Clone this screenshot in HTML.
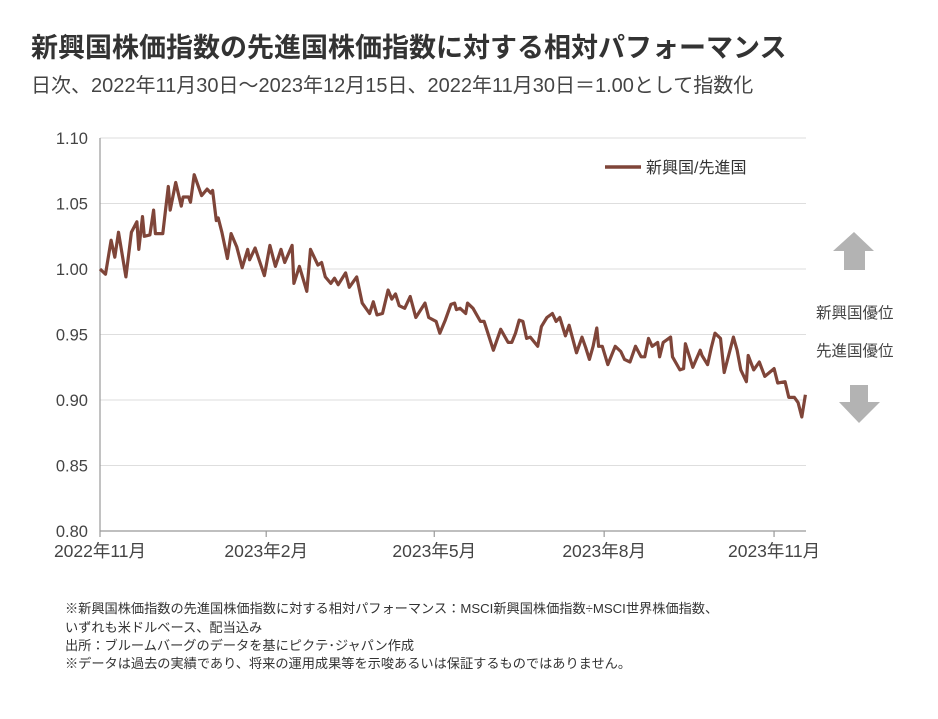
<!DOCTYPE html>
<html><head><meta charset="utf-8">
<style>
body{margin:0;background:#fff;}
svg text{font-family:"Liberation Sans","Noto Sans CJK JP",sans-serif;}
</style></head>
<body>
<svg id="chart" width="938" height="714" xmlns="http://www.w3.org/2000/svg">
<text x="31" y="57" font-size="27" font-weight="bold" fill="#333">新興国株価指数の先進国株価指数に対する相対パフォーマンス</text>
<text x="31" y="92" font-size="20" fill="#444">日次、2022年11月30日～2023年12月15日、2022年11月30日＝1.00として指数化</text>
<g id="grid"></g>
<g id="yticks"></g>
<g id="xticks"></g>
<path id="line" fill="none" stroke="#7f4539" stroke-width="3.2" stroke-linejoin="round"/>
<g>
<line x1="605" y1="167" x2="641" y2="167" stroke="#7f4539" stroke-width="3.5"/>
<text x="646" y="173" font-size="16" fill="#333">新興国/先進国</text>
</g>
<polygon points="854,232 874,251 865,251 865,270 844,270 844,251 833,251" fill="#b3b3b3"/>
<text x="816" y="318" font-size="15.5" fill="#444">新興国優位</text>
<text x="816" y="356" font-size="15.5" fill="#444">先進国優位</text>
<polygon points="850,385 868,385 868,402 880,402 859,423 839,402 850,402" fill="#b3b3b3"/>
<g font-size="13.2" fill="#333">
<text x="65" y="613">※新興国株価指数の先進国株価指数に対する相対パフォーマンス：MSCI新興国株価指数÷MSCI世界株価指数、</text>
<text x="65" y="632">いずれも米ドルベース、配当込み</text>
<text x="65" y="650">出所：ブルームバーグのデータを基にピクテ･ジャパン作成</text>
<text x="65" y="668">※データは過去の実績であり、将来の運用成果等を示唆あるいは保証するものではありません。</text>
</g>
</svg>
<script>
const days=[0,3,6,8,10,14,17,20,21,23,24,27,29,30,34,35,37,38,41,44,45,48,49,51,55,58,60,61,63,64,66,69,71,74,77,80,81,84,89,92,95,98,100,104,105,108,112,114,118,120,122,125,127,129,133,135,139,142,146,148,150,153,156,158,160,162,165,168,171,176,178,182,184,187,190,192,193,195,198,199,202,206,208,213,217,221,223,225,227,229,231,233,237,239,242,245,247,249,252,254,258,261,263,265,267,269,270,272,275,279,282,284,287,290,293,295,297,299,302,303,305,309,310,314,316,317,321,325,326,329,331,333,336,338,343,345,347,350,351,354,357,360,365,367,371,373,376,378,380,382];
const values=[1.000,0.996,1.022,1.009,1.028,0.994,1.028,1.036,1.015,1.040,1.025,1.026,1.045,1.027,1.027,1.039,1.063,1.045,1.066,1.048,1.055,1.055,1.051,1.072,1.056,1.061,1.058,1.060,1.037,1.039,1.028,1.008,1.027,1.017,1.001,1.015,1.007,1.016,0.995,1.018,1.002,1.015,1.005,1.018,0.989,1.002,0.983,1.015,1.003,1.005,0.994,0.989,0.993,0.988,0.997,0.986,0.994,0.974,0.966,0.975,0.965,0.966,0.984,0.977,0.981,0.972,0.970,0.979,0.963,0.974,0.963,0.960,0.951,0.961,0.973,0.974,0.969,0.970,0.966,0.974,0.970,0.960,0.960,0.938,0.954,0.944,0.944,0.951,0.961,0.960,0.947,0.948,0.941,0.956,0.963,0.966,0.960,0.963,0.949,0.957,0.936,0.948,0.940,0.931,0.941,0.955,0.941,0.941,0.927,0.941,0.937,0.931,0.929,0.941,0.933,0.933,0.947,0.941,0.944,0.933,0.944,0.948,0.933,0.923,0.924,0.943,0.925,0.938,0.934,0.927,0.940,0.951,0.947,0.921,0.948,0.938,0.923,0.914,0.934,0.923,0.929,0.918,0.924,0.913,0.914,0.902,0.902,0.898,0.887,0.904];
const yTicks=[0.80,0.85,0.90,0.95,1.00,1.05,1.10];
const xTickDays=[0,90,181,273,365];
const xTickLabels=["2022年11月","2023年2月","2023年5月","2023年8月","2023年11月"];
const X0=100,X1=806,Y0=531,Y1=138,DMAX=382.3;
const x=d=>X0+(X1-X0)*d/DMAX;
const y=v=>Y0-(Y0-Y1)*(v-0.80)/0.30;
const NS="http://www.w3.org/2000/svg";
function mk(tag,attrs,parent){const e=document.createElementNS(NS,tag);for(const k in attrs)e.setAttribute(k,attrs[k]);parent.appendChild(e);return e;}
const grid=document.getElementById('grid'),yt=document.getElementById('yticks'),xt=document.getElementById('xticks');
yTicks.forEach(v=>{
  if(v>0.80){const g=mk('line',{x1:X0,x2:X1,y1:y(v),y2:y(v),stroke:'#dedede','stroke-width':1},grid);
  
  }
  const t=mk('text',{x:88,y:y(v)+6,'text-anchor':'end','font-size':16.5,fill:'#444'},yt);
  
  
  t.textContent=v.toFixed(2);
});
const ya=mk('line',{x1:X0,x2:X0,y1:Y1,y2:Y0,stroke:'#999','stroke-width':1.2},yt);


const xa=mk('line',{x1:X0,x2:X1,y1:Y0,y2:Y0,stroke:'#999','stroke-width':1.2},xt);


xTickDays.forEach((d,i)=>{
  const tk=mk('line',{x1:x(d),x2:x(d),y1:Y0,y2:Y0+6,stroke:'#999','stroke-width':1.2},xt);
  
  
  const t=mk('text',{x:x(d),y:Y0+26,'text-anchor':'middle','font-size':17.5,fill:'#444'},xt);
  
  
  t.textContent=xTickLabels[i];
});
document.getElementById('line').setAttribute('d',days.map((d,i)=>(i?'L':'M')+x(d).toFixed(1)+','+y(values[i]).toFixed(1)).join(''));
</script>
</body></html>
